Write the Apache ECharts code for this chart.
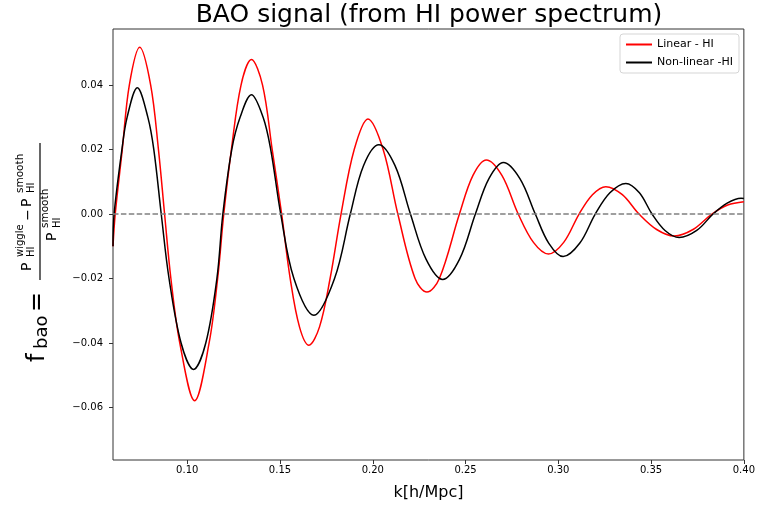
<!DOCTYPE html>
<html>
<head>
<meta charset="utf-8">
<script src="https://cdn.jsdelivr.net/npm/echarts@6/dist/echarts.min.js"></script>
<style>
  html, body { margin: 0; padding: 0; background: #fff; }
  #chart { width: 758px; height: 507px; }
</style>
</head>
<body>
<div id="chart"></div>
<script>
// 数据：k 和 f_bao
const kLinear = [0.0600, 0.0612, 0.0650, 0.0688, 0.0744, 0.0803, 0.0845, 0.0878, 0.0912, 0.0960,
                 0.1040, 0.1118, 0.1164, 0.1197, 0.1238, 0.1290, 0.1346, 0.1406, 0.1458, 0.1509,
                 0.1555, 0.1605, 0.1656, 0.1713, 0.1770, 0.1829, 0.1900, 0.1974, 0.2056, 0.2135,
                 0.2228, 0.2292, 0.2359, 0.2467, 0.2540, 0.2612, 0.2696, 0.2784, 0.2866, 0.2947,
                 0.3029, 0.3112, 0.3184, 0.3256, 0.3345, 0.3435, 0.3530, 0.3624, 0.3726, 0.3828,
                 0.3913, 0.4000];
const fLinear = [-0.0100, 0, 0.020, 0.040, 0.0517, 0.040, 0.020, 0, -0.020, -0.040,
                 -0.0579, -0.040, -0.020, 0, 0.020, 0.040, 0.0479, 0.040, 0.020, 0,
                 -0.020, -0.035, -0.0407, -0.035, -0.020, 0, 0.020, 0.0295, 0.020, 0,
                 -0.020, -0.0242, -0.020, 0, 0.012, 0.0168, 0.012, 0, -0.0088, -0.0124,
                 -0.0088, 0, 0.0060, 0.0085, 0.0060, 0, -0.0048, -0.0068, -0.0048, 0,
                 0.0028, 0.0038];

const kNonlinear = [0.0600, 0.0606, 0.0648, 0.0676, 0.0731, 0.0788, 0.0820, 0.0860, 0.0902, 0.0967,
                    0.1034, 0.1100, 0.1160, 0.1192, 0.1240, 0.1285, 0.1346, 0.1409, 0.1450, 0.1504,
                    0.1575, 0.1683, 0.1794, 0.1879, 0.1950, 0.2033, 0.2120, 0.2203, 0.2287, 0.2377,
                    0.2468, 0.2553, 0.2626, 0.2704, 0.2793, 0.2876, 0.2948, 0.3026, 0.3116, 0.3199,
                    0.3278, 0.3364, 0.3437, 0.3505, 0.3575, 0.3651, 0.3746, 0.3834, 0.3910, 0.3985,
                    0.4000];
const fNonlinear = [-0.0100, 0, 0.020, 0.030, 0.0392, 0.030, 0.020, 0, -0.020, -0.040,
                    -0.0482, -0.040, -0.020, 0, 0.020, 0.030, 0.0370, 0.030, 0.020, 0,
                    -0.020, -0.0314, -0.020, 0, 0.015, 0.0215, 0.015, 0, -0.014, -0.0203,
                    -0.014, 0, 0.011, 0.0160, 0.011, 0, -0.0090, -0.0132, -0.0090, 0,
                    0.0066, 0.0095, 0.0066, 0, -0.0051, -0.0073, -0.0051, 0, 0.0034, 0.0049,
                    0.0048];

const xRange = [0.06, 0.40];
const yRange = [-0.0763, 0.0574];
const zeroLine = [[0.06, 0], [0.40, 0]];

const FONT = 'DejaVu Sans';

function pairs(xs, ys) {
    return xs.map((x, i) => [x, ys[i]]);
}

let myChart = echarts.init(document.getElementById('chart'), null, { renderer: 'canvas' });

// y轴标题 (竖排的公式)
function t(text, x, y, size, align) {
    return {
        type: 'text',
        x: x, y: y,
        style: {
            text: text,
            font: size + 'px "' + FONT + '"',
            fill: '#000',
            align: align || 'left',
            verticalAlign: 'middle'
        }
    };
}

let option = {
    animation: false,
    backgroundColor: '#fff',
    title: {
        text: 'BAO signal (from HI power spectrum)',
        left: 429,
        textAlign: 'center',
        top: 3,
        padding: 0,
        textStyle: {
            fontFamily: FONT,
            fontSize: 25,
            fontWeight: 'normal',
            color: '#000'
        }
    },
    legend: {
        data: ['Linear - HI', 'Non-linear -HI'],
        orient: 'vertical',
        right: 19,
        top: 34,
        icon: 'rect',
        itemWidth: 26,
        itemHeight: 2,
        itemGap: 7,
        padding: [5, 6, 5, 6],
        backgroundColor: '#fff',
        borderColor: '#d5d5d5',
        borderWidth: 1,
        borderRadius: 3,
        textStyle: {
            fontFamily: FONT,
            fontSize: 11,
            color: '#000'
        }
    },
    grid: {
        left: 113,
        right: 13,
        top: 29,
        bottom: 47,
        show: true,
        borderColor: '#333',
        borderWidth: 1,
        backgroundColor: 'transparent'
    },
    xAxis: {
        type: 'value',
        min: xRange[0],
        max: xRange[1],
        splitNumber: 7,
        name: 'k[h/Mpc]',
        nameLocation: 'middle',
        nameGap: 25,
        nameTextStyle: { fontFamily: FONT, fontSize: 16, color: '#000' },
        axisLine: { show: false, onZero: false },
        axisTick: { show: true, inside: false, length: 4, lineStyle: { color: '#333' } },
        axisLabel: {
            showMinLabel: false,
            fontFamily: FONT,
            fontSize: 10,
            color: '#000',
            margin: 5,
            formatter: v => v.toFixed(2)
        },
        splitLine: { show: false }
    },
    yAxis: {
        type: 'value',
        min: yRange[0],
        max: yRange[1],
        splitNumber: 7,
        axisLine: { show: false, onZero: false },
        axisTick: { show: true, inside: false, length: 4, lineStyle: { color: '#333' } },
        axisLabel: {
            showMinLabel: false,
            showMaxLabel: false,
            fontFamily: FONT,
            fontSize: 10,
            color: '#000',
            margin: 10,
            formatter: v => (v < 0 ? '\u2212' : '') + Math.abs(v).toFixed(2)
        },
        splitLine: { show: false }
    },
    series: [
        {
            name: 'Linear - HI',
            type: 'line',
            data: pairs(kLinear, fLinear),
            smooth: 0.35,
            showSymbol: false,
            itemStyle: { color: '#ff0000' },
            lineStyle: { color: '#ff0000', width: 1.5 },
            z: 2
        },
        {
            name: 'Non-linear -HI',
            type: 'line',
            data: pairs(kNonlinear, fNonlinear),
            smooth: 0.35,
            showSymbol: false,
            itemStyle: { color: '#000000' },
            lineStyle: { color: '#000000', width: 1.5 },
            z: 3
        },
        {
            // y=0 的虚线
            name: 'zero',
            type: 'line',
            data: zeroLine,
            showSymbol: false,
            silent: true,
            lineStyle: { color: '#808080', width: 1.5, type: [5.5, 2.4] },
            z: 4
        }
    ],
    graphic: [
        {
            type: 'group',
            x: 40,
            y: 362,
            rotation: Math.PI / 2,
            children: [
                t('f', 0, -2.7, 24),
                t('bao', 13, 2.5, 18),
                t('=', 50, -2.7, 24),
                {
                    type: 'line',
                    shape: { x1: 82, y1: 0, x2: 219, y2: 0 },
                    style: { stroke: '#000', lineWidth: 1.2 }
                },
                // 分子
                t('P', 91, -13, 14),
                t('wiggle', 105, -19.5, 10),
                t('HI', 105, -8.5, 10),
                t('\u2212', 147, -12, 14, 'center'),
                t('P', 155, -13, 14),
                t('smooth', 169, -19.5, 10.5),
                t('HI', 169, -8.5, 10),
                // 分母
                t('P', 121, 12, 14),
                t('smooth', 134, 5.5, 10.5),
                t('HI', 134, 17.5, 10)
            ]
        }
    ]
};
myChart.setOption(option);
</script>
</body>
</html>
